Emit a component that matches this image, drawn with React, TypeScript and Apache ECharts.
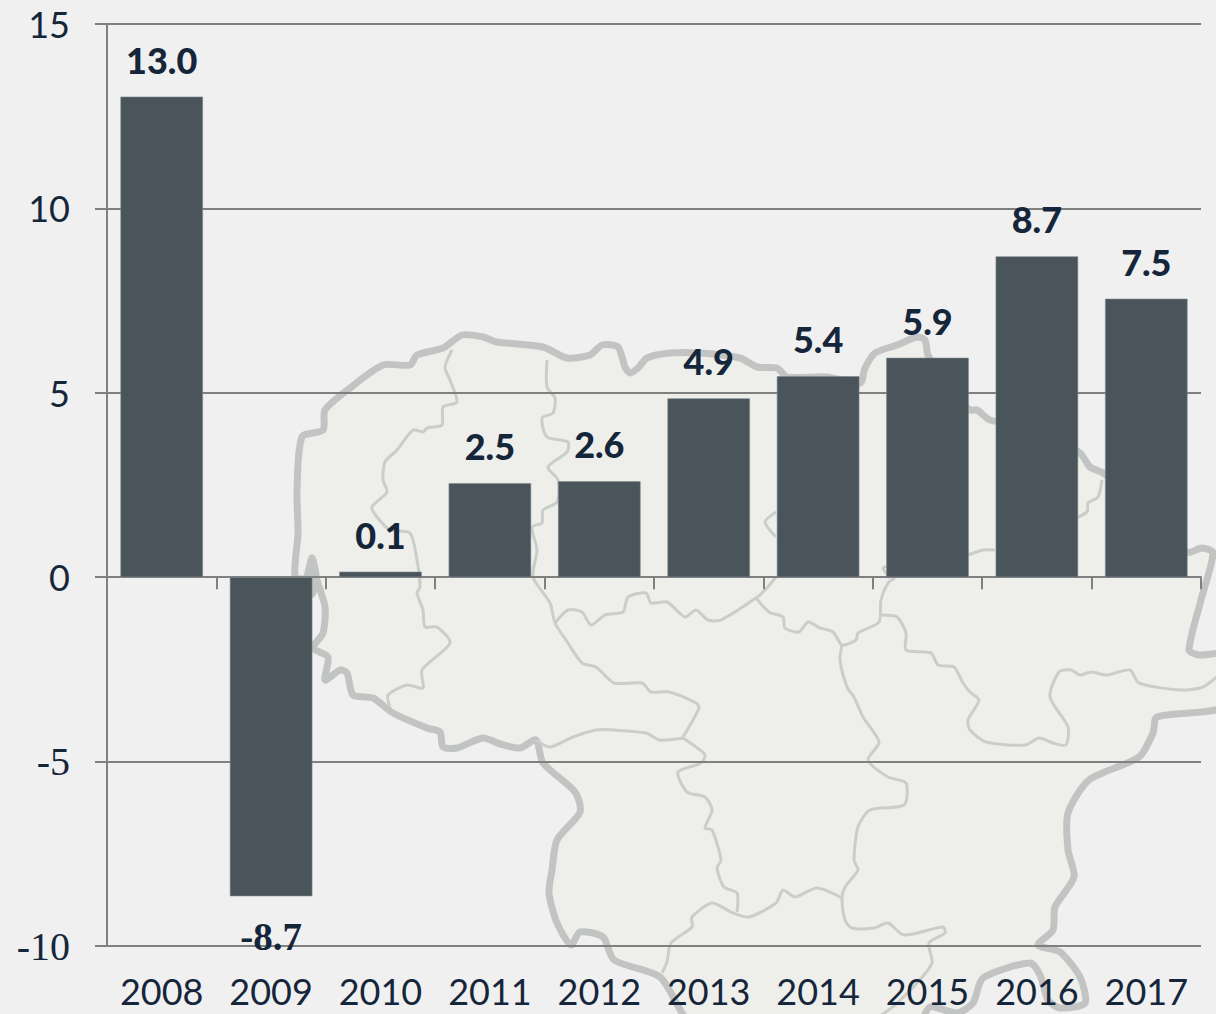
import React, { useEffect, useRef } from "react";
import * as echarts from "echarts";

const years = ["2008", "2009", "2010", "2011", "2012", "2013", "2014", "2015", "2016", "2017"];
const values = [13.03, -8.65, 0.15, 2.55, 2.6, 4.85, 5.45, 5.95, 8.7, 7.55];
const valueLabels = ["13.0", "-8.7", "0.1", "2.5", "2.6", "4.9", "5.4", "5.9", "8.7", "7.5"];

const INK = "#16263a";
const AXIS = "#808080";
const BAR = "#49545b";
const SANS = "Lato, 'Noto Sans', sans-serif";
const SERIF = "'Liberation Serif', serif";

// Decorative background map, traced in page pixels.
const mapOutline = [
  [297, 490], [302, 437], [323, 430], [325, 410], [350, 388], [383, 365], [410, 365], [417, 355], [443, 348],
  [462, 335], [483, 337], [497, 342], [543, 347], [567, 358], [590, 355], [602, 345], [618, 347], [625, 367],
  [630, 373], [638, 368], [647, 358], [670, 353], [700, 353], [740, 358], [757, 367], [777, 368], [787, 377],
  [827, 377], [860, 383], [865, 368], [875, 353], [897, 345], [917, 337], [925, 340], [928, 355], [945, 385],
  [970, 410], [977, 410], [990, 420], [1040, 430], [1080, 453], [1090, 467], [1103, 473], [1150, 510],
  [1187, 552], [1202, 548], [1213, 553], [1201, 600], [1189, 650], [1199, 655], [1225, 655], [1225, 706],
  [1157, 717], [1153, 733], [1139, 757], [1089, 780], [1068, 813], [1068, 850], [1074, 877], [1055, 907],
  [1053, 930], [1038, 945], [1060, 952], [1080, 977], [1085, 1003], [1060, 1008], [1048, 1000], [1040, 975],
  [1030, 963], [983, 978], [973, 1003], [957, 1013], [930, 1007], [917, 1025], [695, 1025], [660, 977],
  [614, 960], [603, 937], [580, 932], [571, 945], [557, 923], [549, 893], [552, 870], [557, 840], [580, 812],
  [575, 792], [543, 763], [536, 740], [520, 748], [500, 744], [483, 738], [457, 748], [443, 747], [440, 732],
  [427, 728], [393, 713], [373, 698], [353, 695], [347, 673], [340, 670], [325, 680], [328, 657], [313, 648],
  [323, 633], [325, 607], [317, 580], [312, 558], [306, 578], [295, 577], [298, 533],
];

const mapInnerLines = [
  [[452, 350], [445, 367], [450, 380], [457, 402], [443, 407], [442, 425], [427, 428], [423, 432], [413, 430], [397, 450], [385, 462], [383, 480], [387, 492], [372, 507], [377, 517], [390, 530], [410, 533], [417, 560], [420, 587], [417, 593], [423, 610], [425, 627], [437, 627], [450, 643], [422, 670], [423, 688], [407, 685], [388, 695], [390, 707]],
  [[547, 360], [547, 387], [555, 398], [553, 413], [542, 418], [547, 437], [568, 442], [567, 452], [548, 467], [558, 480], [557, 502], [543, 510], [542, 523], [532, 527], [537, 550], [533, 577], [550, 603], [555, 623], [568, 643], [582, 663], [596, 667], [614, 683], [642, 683], [651, 692], [669, 692], [696, 703], [699, 708], [683, 737]],
  [[555, 623], [568, 610], [582, 612], [591, 625], [605, 615], [623, 612], [628, 597], [646, 593], [651, 603], [667, 602], [685, 617], [696, 610], [708, 620], [721, 620], [756, 598], [765, 590], [776, 577]],
  [[756, 598], [769, 612], [783, 617], [785, 628], [799, 632], [808, 622], [820, 628], [833, 632], [842, 645], [856, 640], [858, 633], [879, 622], [881, 600], [888, 583], [895, 578]],
  [[881, 615], [897, 617], [906, 633], [906, 650], [931, 653], [938, 665], [954, 667], [963, 683], [970, 692], [979, 700], [968, 720], [970, 730], [986, 742], [1025, 745], [1039, 738], [1053, 743], [1066, 745], [1068, 727], [1050, 697], [1059, 672], [1071, 670], [1080, 675], [1091, 672], [1107, 675], [1130, 670], [1139, 683], [1180, 690], [1203, 687], [1220, 674]],
  [[842, 645], [840, 660], [847, 687], [854, 697], [863, 717], [879, 742], [868, 760], [888, 777], [906, 783], [904, 805], [870, 810], [858, 827], [854, 860], [858, 870], [845, 887], [842, 898], [845, 920], [852, 928], [874, 928], [888, 923], [904, 935], [943, 927], [945, 933], [929, 943], [932, 963], [917, 983], [895, 1005], [880, 1016]],
  [[842, 898], [817, 888], [795, 897], [783, 890], [776, 903], [749, 917], [733, 913], [712, 903], [692, 917], [692, 927], [671, 943], [667, 962], [662, 973]],
  [[737, 912], [737, 893], [724, 887], [717, 868], [721, 860], [712, 830], [705, 828], [712, 810], [705, 797], [687, 792], [678, 772], [701, 763], [705, 755], [696, 747], [683, 738]],
  [[683, 738], [660, 740], [646, 733], [614, 730], [596, 730], [573, 737], [550, 747], [536, 740]],
  [[1102, 480], [1098, 497], [1088, 503], [1087, 512], [1060, 525]],
  [[776, 512], [765, 522], [776, 537]],
  [[995, 550], [983, 550], [960, 558]],
  [[890, 566], [883, 568], [890, 578]],
];

export default function App() {
  const ref = useRef<HTMLDivElement>(null);

  useEffect(() => {
    const chart = echarts.init(ref.current!, undefined, { renderer: "svg" });
    const graphicElements: any[] = [
      {
        type: "polygon",
        z: -10,
        silent: true,
        shape: { points: mapOutline, smooth: 0.25 },
        style: { fill: "#eeefea", stroke: "#c2c4c3", lineWidth: 7, lineJoin: "round" },
      },
      {
        type: "ellipse",
        z: -9,
        silent: true,
        shape: { cx: 312, cy: 578, rx: 7, ry: 20 },
        style: { fill: "#c2c4c3" },
      },
      ...mapInnerLines.map((pts) => ({
        type: "polyline",
        z: -9,
        silent: true,
        shape: { points: pts, smooth: 0.25 },
        style: { fill: "none", stroke: "#cbcdca", lineWidth: 3, lineJoin: "round" },
      })),
    ];

    chart.setOption({
      animation: false,
      backgroundColor: "#f0f0f0",
      graphic: { elements: graphicElements },
      grid: { left: 107, right: 15, top: 24, bottom: 68, containLabel: false, outerBoundsMode: "none" },
      xAxis: {
        type: "category",
        data: years,
        axisLine: { onZero: true, lineStyle: { color: AXIS, width: 2 } },
        axisTick: { show: true, alignWithLabel: false, length: 12, lineStyle: { color: AXIS, width: 2 } },
        axisLabel: { interval: 0, margin: 27, color: INK, fontFamily: SANS, fontSize: 36, lineHeight: 36, verticalAlign: "top" },
        splitLine: { show: false },
      },
      yAxis: {
        type: "value",
        min: -10,
        max: 15,
        interval: 5,
        axisLine: { show: true, lineStyle: { color: AXIS, width: 2 } },
        axisTick: { show: true, length: 12, lineStyle: { color: AXIS, width: 2 } },
        splitLine: { show: true, lineStyle: { color: AXIS, width: 2 } },
        axisLabel: {
          margin: 37,
          color: INK,
          fontFamily: SANS,
          fontSize: 36,
          formatter: (v: number) => (v < 0 ? `{neg|${v}}` : `${v}`),
          rich: { neg: { fontFamily: SERIF, fontSize: 40, color: INK } },
        },
      },
      series: [
        {
          type: "bar",
          barWidth: 82.5,
          itemStyle: { color: BAR, borderColor: "#7e888d", borderWidth: 0.6 },
          data: values.map((v, i) =>
            v < 0
              ? {
                  value: v,
                  label: {
                    show: true,
                    position: "bottom",
                    distance: 21,
                    formatter: valueLabels[i],
                    fontFamily: SERIF,
                    fontWeight: 700,
                    fontSize: 39,
                    color: INK,
                  },
                }
              : {
                  value: v,
                  label: {
                    show: true,
                    position: "top",
                    distance: 19,
                    formatter: valueLabels[i],
                    fontFamily: SANS,
                    fontWeight: 900,
                    fontSize: 36,
                    color: INK,
                  },
                }
          ),
        },
      ],
    });
    return () => chart.dispose();
  }, []);

  return <div ref={ref} style={{ position: "fixed", left: 0, top: 0, width: 1216, height: 1014 }} />;
}
